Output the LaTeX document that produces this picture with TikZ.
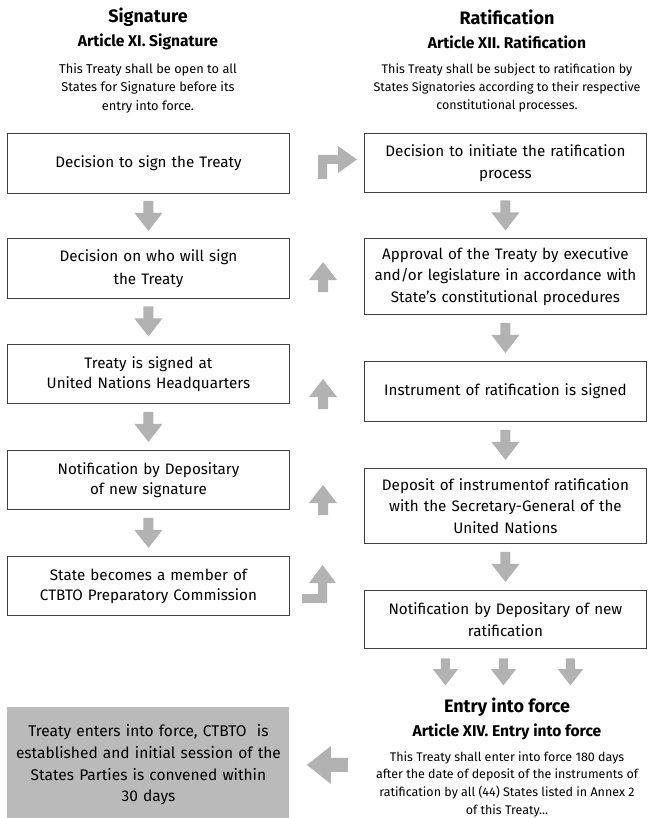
\documentclass[tikz,border=0pt]{standalone}
\usepackage{fontspec}
\setmainfont{Fira Sans}
\usetikzlibrary{calc}

\definecolor{arrowgray}{gray}{0.70}
\definecolor{boxgray}{gray}{0.73}

% block arrows, #2 = centre point
\newcommand{\downblock}[2][1]{\fill[arrowgray,scale=#1] (#2) ++(-5,-15) -- ++(10,0) -- ++(0,12) -- ++(9,0) -- ++(-14,18) -- ++(-14,-18) -- ++(9,0) -- cycle;}
\newcommand{\upblock}[2][1]{\fill[arrowgray,scale=#1] (#2) ++(-5,15) -- ++(10,0) -- ++(0,-12) -- ++(9,0) -- ++(-14,-18) -- ++(-14,18) -- ++(9,0) -- cycle;}

\begin{document}
\begin{tikzpicture}[x=1pt,y=-1pt,
	box/.style={draw=black!75,line width=.9pt,inner sep=2pt,text width=278pt,align=center,
		font=\fontsize{15.2}{21.5}\selectfont},
	title/.style={font=\fontsize{18}{20}\selectfont\bfseries},
	subtitle/.style={font=\fontsize{15.6}{18}\selectfont\bfseries},
	bodytext/.style={align=center,font=\fontsize{12.8}{18.4}\selectfont}]
	\useasboundingbox (0,0) rectangle (647,818);

	%headings of the two columns
	\node[title] (sighead) at (148,17) {Signature};
	\node[subtitle] (sigart) at (148,42) {Article XI. Signature};
	\node[bodytext] (sigtext) at (148,88) {This Treaty shall be open to all\\States for Signature before its\\entry into force.};

	\node[title] (rathead) at (507,17) {Ratification};
	\node[subtitle] (ratart) at (507,42) {Article XII. Ratification};
	\node[bodytext,font=\fontsize{12.5}{18.4}\selectfont] (rattext) at (507,88) {This Treaty shall be subject to ratification by\\States Signatories according to their respective\\constitutional processes.};

	%signature column
	\node[box,minimum height=60pt,anchor=north west] (s1) at (7,133) {Decision to sign the Treaty};
	\node[box,minimum height=60pt,anchor=north west,font=\fontsize{15.2}{23}\selectfont] (s2) at (7,238) {Decision on who will sign\\the Treaty};
	\node[box,minimum height=59pt,anchor=north west,font=\fontsize{15.2}{20}\selectfont] (s3) at (7,344) {Treaty is signed at\\United Nations Headquarters};
	\node[box,minimum height=59pt,anchor=north west,font=\fontsize{15.2}{20}\selectfont] (s4) at (7,450) {Notification by Depositary\\of new signature};
	\node[box,minimum height=59pt,anchor=north west,font=\fontsize{15.2}{20}\selectfont] (s5) at (7,556) {State becomes a member of\\CTBTO Preparatory Commission};

	%ratification column
	\node[box,minimum height=59pt,anchor=north west] (r1) at (364,133) {Decision to initiate the ratification\\process};
	\node[box,minimum height=76pt,anchor=north west] (r2) at (364,238) {Approval of the Treaty by executive\\and/or legislature in accordance with\\State's constitutional procedures};
	\node[box,minimum height=60pt,anchor=north west] (r3) at (364,361) {Instrument of ratification is signed};
	\node[box,minimum height=75pt,anchor=north west] (r4) at (364,468) {Deposit of instrumentof ratification\\with the Secretary-General of the\\United Nations};
	\node[box,minimum height=58pt,anchor=north west] (r5) at (364,590) {Notification by Depositary of new\\ratification};

	%entry into force
	\node[title] (eifhead) at (507,707) {Entry into force};
	\node[subtitle] (eifart) at (507,732) {Article XIV. Entry into force};
	\node[bodytext,anchor=north,font=\fontsize{12.5}{17.6}\selectfont] (eiftext) at (507,748) {This Treaty shall enter into force 180 days\\after the date of deposit of the instruments of\\ratification by all (44) States listed in Annex 2\\of this Treaty...};

	\node[box,draw=none,fill=boxgray,minimum height=115pt,anchor=north west,font=\fontsize{15.5}{21.7}\selectfont] (eif) at (7,707) {Treaty enters into force, CTBTO~ is\\established and initial session of the\\States Parties is convened within\\30 days};

	%putting arrows:
	\downblock{$(s1.south)!.5!(s2.north)$}
	\downblock{$(s2.south)!.5!(s3.north)$}
	\downblock{$(s3.south)!.5!(s4.north)$}
	\downblock{$(s4.south)!.5!(s5.north)$}

	\downblock{$(r1.south)!.5!(r2.north)$}
	\downblock{$(r2.south)!.5!(r3.north)$}
	\downblock{$(r3.south)!.5!(r4.north)$}
	\downblock{$(r4.south)!.5!(r5.north)$}

	\upblock{323,277}
	\upblock{323,394}
	\upblock{323,500}

	\coordinate (e1) at ($(r5.south)+(-60,23)$);
	\coordinate (e2) at ($(r5.south)+(-2,23)$);
	\coordinate (e3) at ($(r5.south)+(65,23)$);
	\downblock[.9]{e1}
	\downblock[.9]{e2}
	\downblock[.9]{e3}

	%bent arrows into and out of the gap
	\fill[arrowgray] (318,179) -- (318,155) -- (338,155) -- (338,146) -- (357,159.5) -- (338,173) -- (338,164) -- (327,164) -- (327,179) -- cycle;
	\fill[arrowgray] (302,603) -- (302,594) -- (318,594) -- (318,583) -- (309,583) -- (322.5,565) -- (336,583) -- (327,583) -- (327,603) -- cycle;

	%arrow towards the grey box
	\fill[arrowgray] ($(eif.east)+(17,0)$) ++(41,-7) -- ++(-17,0) -- ++(0,-12) -- ++(-24,19) -- ++(24,19) -- ++(0,-12) -- ++(17,0) -- cycle;
\end{tikzpicture}
\end{document}
